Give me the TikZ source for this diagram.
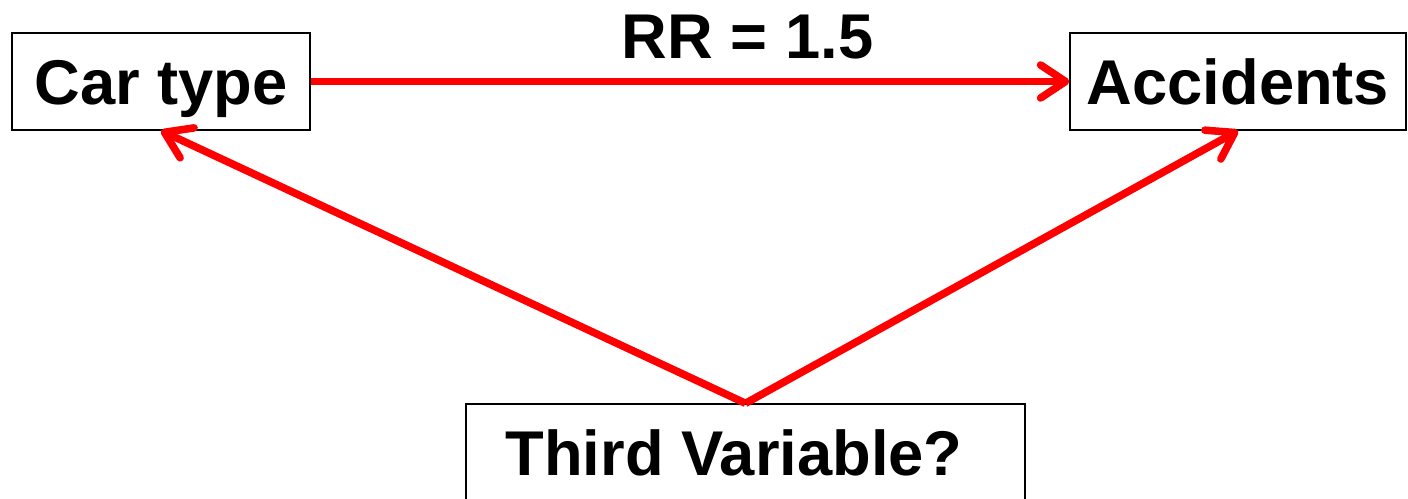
\documentclass[tikz,border=0pt]{standalone}
\usepackage{fontspec}
\setmainfont{Liberation Sans}
\usetikzlibrary{arrows.meta,positioning}

\begin{document}
\begin{tikzpicture}[->, >={Straight Barb[round, length=0.5cm, width=0.66cm]}, x=0.02cm, y=-0.02cm,
  box/.style={draw, line width=0.8pt, inner sep=0pt, text height=1.44cm, text depth=0.5cm, font=\fontsize{36}{43}\selectfont\bfseries},
  link/.style={draw=red, line width=4.3pt}]
\path[use as bounding box] (0,0) rectangle (1408,499);
\node[box, minimum width=5.96cm] (car) at (161,81.5) {Car type};
\node[box, minimum width=6.72cm] (acc) at (1238,81.5) {Accidents};
\node[box, minimum width=11.18cm] (third) at (745.5,452.5) {Third Variable?\hspace*{0.46cm}};
\path (car) edge[link] node[pos=0.576, anchor=base, yshift=0.46cm, font=\fontsize{36}{43}\selectfont\bfseries] {RR = 1.5} (acc);
\path (third.north) edge[link] (car.south);
\path (third.north) edge[link] (acc.south);
\end{tikzpicture}
\end{document}
